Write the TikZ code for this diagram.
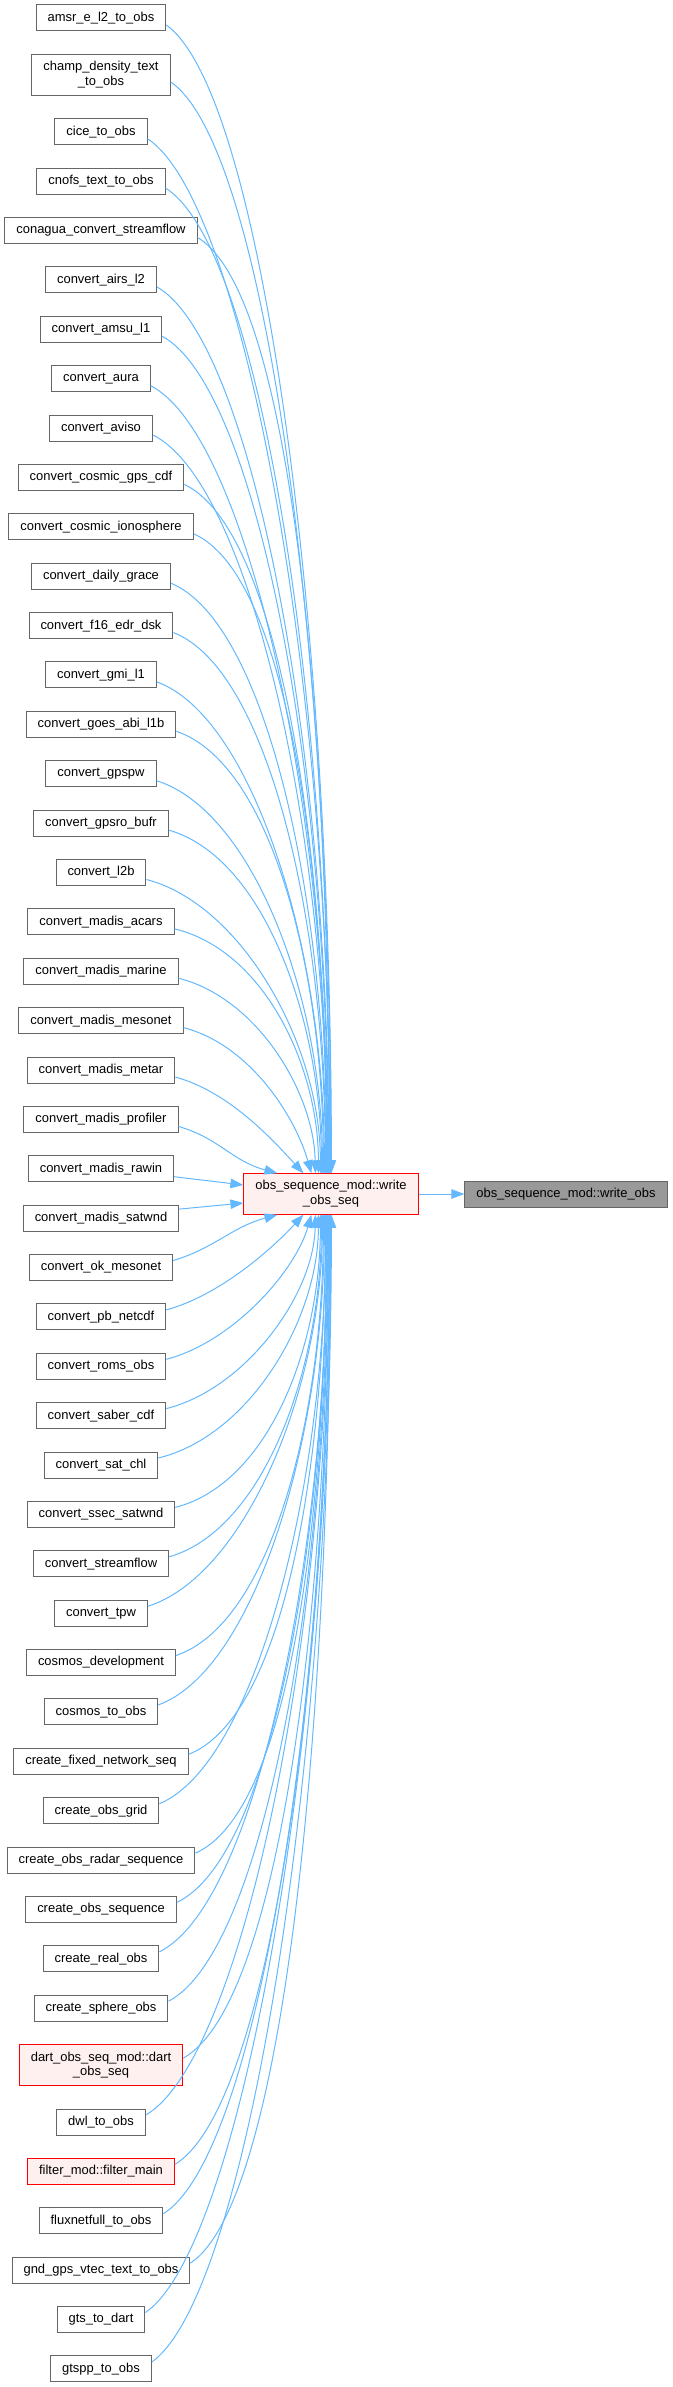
\documentclass[tikz,border=0pt]{standalone}
\usepackage{fontspec}
\setmainfont{Liberation Sans}
\usetikzlibrary{arrows.meta}
\definecolor{edgeblue}{HTML}{63B8FF}
\definecolor{boxline}{HTML}{666666}
\definecolor{hitfill}{HTML}{FFF0F0}
\definecolor{hitline}{HTML}{FF0000}
\definecolor{rootfill}{HTML}{999999}
\begin{document}
\begin{tikzpicture}[x=1bp,y=-1bp,>={Triangle[length=13bp,width=9.5bp]},
  fn/.style={draw=boxline,fill=white,line width=1bp,font=\fontsize{13}{15}\selectfont,inner xsep=11.5bp,inner ysep=2bp,minimum height=26bp,align=center},
  fntwo/.style={fn,minimum height=40.5bp},
  hit/.style={draw=hitline,fill=hitfill},
  call/.style={->,draw=edgeblue,line width=1bp}]
\useasboundingbox (0,0) rectangle (673,2387);
% callers
\foreach \y/\nm/\txt in {18/amsr/amsr\_e\_l2\_to\_obs, 131.8/cice/cice\_to\_obs,
  181.1/cnofs/cnofs\_text\_to\_obs, 230.5/conagua/conagua\_convert\_streamflow,
  279.9/airs/convert\_airs\_l2, 329.3/amsu/convert\_amsu\_l1, 378.7/aura/convert\_aura,
  428.0/aviso/convert\_aviso, 477.4/cosmicgps/convert\_cosmic\_gps\_cdf,
  526.8/cosmicion/convert\_cosmic\_ionosphere, 576.2/grace/convert\_daily\_grace,
  625.6/f16/convert\_f16\_edr\_dsk, 674.9/gmi/convert\_gmi\_l1, 724.3/goes/convert\_goes\_abi\_l1b,
  773.7/gpspw/convert\_gpspw, 823.1/gpsro/convert\_gpsro\_bufr, 872.5/l2b/convert\_l2b,
  921.8/acars/convert\_madis\_acars, 971.2/marine/convert\_madis\_marine,
  1020.6/mesonet/convert\_madis\_mesonet, 1070.0/metar/convert\_madis\_metar,
  1119.4/profiler/convert\_madis\_profiler, 1168.7/rawin/convert\_madis\_rawin,
  1218.1/satwnd/convert\_madis\_satwnd, 1267.5/okmeso/convert\_ok\_mesonet,
  1316.9/pbnetcdf/convert\_pb\_netcdf, 1366.3/roms/convert\_roms\_obs,
  1415.6/saber/convert\_saber\_cdf, 1465.0/satchl/convert\_sat\_chl,
  1514.4/ssec/convert\_ssec\_satwnd, 1563.8/streamflow/convert\_streamflow,
  1613.2/tpw/convert\_tpw, 1662.5/cosmosdev/cosmos\_development, 1711.9/cosmos/cosmos\_to\_obs,
  1761.3/fixednet/create\_fixed\_network\_seq, 1810.7/obsgrid/create\_obs\_grid,
  1860.1/radarseq/create\_obs\_radar\_sequence, 1909.4/obsseq/create\_obs\_sequence,
  1958.8/realobs/create\_real\_obs, 2008.2/sphere/create\_sphere\_obs, 2122.0/dwl/dwl\_to\_obs,
  2220.7/fluxnet/fluxnetfull\_to\_obs, 2270.1/gndgps/gnd\_gps\_vtec\_text\_to\_obs,
  2319.5/gts/gts\_to\_dart, 2368.9/gtspp/gtspp\_to\_obs}
  \node[fn] (\nm) at (101,\y) {\txt};
\node[fntwo] (champ) at (101,74.9) {champ\_density\_text\\\_to\_obs};
\node[fntwo,hit] (dart) at (101,2065.1) {dart\_obs\_seq\_mod::dart\\\_obs\_seq};
\node[fn,hit] (filter) at (101,2171.4) {filter\_mod::filter\_main};
% function and callee
\node[fntwo,hit] (seq) at (331,1194) {obs\_sequence\_mod::write\\\_obs\_seq};
\node[fn,fill=rootfill] (wobs) at (566,1194) {obs\_sequence\_mod::write\_obs};
% edges into the top
\foreach \nm/\y/\o in {amsr/18/88, champ/74.9/87.5, cice/131.8/87, cnofs/181.1/86.5,
  conagua/230.5/86, airs/279.9/85.5, amsu/329.3/85, aura/378.7/84.5, aviso/428.0/84,
  cosmicgps/477.4/83.5, cosmicion/526.8/83, grace/576.2/82.5, f16/625.6/82, gmi/674.9/81,
  goes/724.3/80, gpspw/773.7/79, gpsro/823.1/78, l2b/872.5/77, acars/921.8/75,
  marine/971.2/72, mesonet/1020.6/68, metar/1070.0/60, profiler/1119.4/34}{
  \pgfmathsetmacro\dist{1173-\y-7}
  \draw[call] ([yshift=-7bp]\nm.east) .. controls +({min(95,30+0.25*\dist)},{10+0.05*\dist}) and +({-max(0,60-0.3*\dist)},{-0.5*\dist/(\dist+40)*\dist}) .. ([xshift=\o bp]seq.north west);
}
% edges into the bottom
\foreach \nm/\y/\o in {okmeso/1267.5/34, pbnetcdf/1316.9/60, roms/1366.3/68, saber/1415.6/72,
  satchl/1465.0/75, ssec/1514.4/77, streamflow/1563.8/78, tpw/1613.2/79, cosmosdev/1662.5/80,
  cosmos/1711.9/81, fixednet/1761.3/82, obsgrid/1810.7/82.5, radarseq/1860.1/83,
  obsseq/1909.4/83.5, realobs/1958.8/84, sphere/2008.2/84.5, dart/2065.1/85, dwl/2122.0/85.5,
  filter/2171.4/86, fluxnet/2220.7/86.5, gndgps/2270.1/87, gts/2319.5/87.5, gtspp/2368.9/88}{
  \pgfmathsetmacro\dist{\y-7-1214}
  \draw[call] ([yshift=7bp]\nm.east) .. controls +({min(95,30+0.25*\dist)},{-10-0.05*\dist}) and +({-max(0,60-0.3*\dist)},{0.5*\dist/(\dist+40)*\dist}) .. ([xshift=\o bp]seq.south west);
}
\draw[call] ([yshift=-8bp]rawin.east) -- ([yshift=9bp]seq.west);
\draw[call] ([yshift=9bp]satwnd.east) -- ([yshift=-9bp]seq.west);
\draw[call] (seq) -- (wobs);
\end{tikzpicture}
\end{document}
